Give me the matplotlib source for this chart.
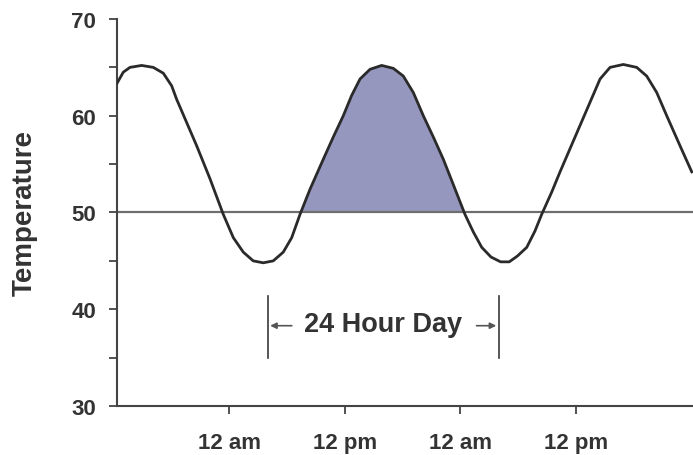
import matplotlib
matplotlib.use('Agg')
import numpy as np
import matplotlib.pyplot as plt

# hours along the x axis (first "12 am" tick = 12) and temperature
hours = [0.30, 0.98, 1.68, 2.89, 4.10, 5.14, 6.01, 6.53, 7.57, 8.61, 9.99, 11.38,
         12.42, 13.46, 14.49, 15.53, 16.57, 17.61, 18.49, 19.35, 20.39, 21.77,
         22.81, 23.85, 24.72, 25.59, 26.63, 27.84, 29.05, 30.09, 31.13, 32.17,
         33.21, 34.25, 35.28, 36.50, 37.36, 38.24, 39.20, 40.20, 41.10, 41.95,
         42.92, 43.78, 44.47, 45.51, 46.38, 47.42, 48.46, 49.50, 50.54, 51.58,
         52.96, 54.35, 55.39, 56.43, 57.47, 58.85, 60.07]
temps = [63.3, 64.5, 65.0, 65.2, 65.0, 64.4, 63.1, 61.7, 59.3, 56.9, 53.5, 49.8,
         47.4, 45.9, 45.0, 44.8, 45.0, 45.9, 47.4, 49.8, 52.4, 55.5,
         57.8, 60.0, 62.1, 63.8, 64.8, 65.2, 64.9, 64.1, 62.4, 60.0,
         57.8, 55.5, 52.9, 49.8, 48.0, 46.4, 45.4, 44.9, 44.9, 45.5,
         46.4, 48.1, 49.8, 52.1, 54.2, 56.6, 59.0, 61.4, 63.8, 65.0,
         65.3, 65.0, 64.1, 62.4, 60.0, 56.9, 54.2]

baseline = 50
day_start, day_end = 16.0, 40.0
x_ticks = [12, 24, 36, 48]
x_labels = ['12 am', '12 pm', '12 am', '12 pm']
y_ticks = [30, 35, 40, 45, 50, 55, 60, 65, 70]
y_labels = ['30', '', '40', '', '50', '', '60', '', '70']

plt.rcParams['font.family'] = ['Liberation Sans', 'DejaVu Sans']
ink = '#333333'

fig = plt.figure(figsize=(6.93, 4.56), dpi=100)
ax = fig.add_axes([117 / 693, 49 / 456, 576 / 693, 387 / 456])

h = np.array(hours)
t = np.array(temps)

# shaded warm part of one day
ax.fill_between(h, t, baseline, where=(h > 18) & (h < 38) & (t >= baseline),
                interpolate=True, color='#9597bf', linewidth=0, zorder=1)
ax.axhline(baseline, color='#6e6e6e', lw=1.6, zorder=2)
ax.plot(h, t, color='#2a2a2a', lw=2.0, zorder=3, solid_joinstyle='round')

# 24 hour bracket
for xb in (day_start, day_end):
    ax.plot([xb, xb], [35.0, 41.4], color='#3a3a3a', lw=1.2)
mid = (day_start + day_end) / 2
ax.text(mid, 38.5, '24 Hour Day', ha='center', va='center', fontsize=19.5,
        fontweight='bold', color=ink)
arrow = dict(arrowstyle='-|>', color='#555555', lw=1.2, mutation_scale=9,
             shrinkA=0, shrinkB=0)
ax.annotate('', xy=(day_start + 0.25, 38.3), xytext=(day_start + 2.5, 38.3),
            arrowprops=arrow)
ax.annotate('', xy=(day_end - 0.25, 38.3), xytext=(day_end - 2.3, 38.3),
            arrowprops=arrow)

ax.set_xlim(0.33, 60.2)
ax.set_ylim(30, 70)
ax.set_xticks(x_ticks)
ax.set_xticklabels(x_labels)
ax.set_yticks(y_ticks)
ax.set_yticklabels(y_labels)
ax.tick_params(axis='both', direction='out', length=6, width=1.3, colors='#444444',
               labelcolor=ink, labelsize=16)
ax.tick_params(axis='x', pad=12.5)
ax.tick_params(axis='y', pad=9)
for lbl in ax.get_xticklabels() + ax.get_yticklabels():
    lbl.set_fontweight('bold')

for side in ('top', 'right'):
    ax.spines[side].set_visible(False)
for side in ('left', 'bottom'):
    ax.spines[side].set_color('#444444')
    ax.spines[side].set_linewidth(1.5)

ax.set_ylabel('Temperature', fontsize=20, fontweight='bold', color=ink, labelpad=24)

fig.savefig('out.png', dpi=100)
